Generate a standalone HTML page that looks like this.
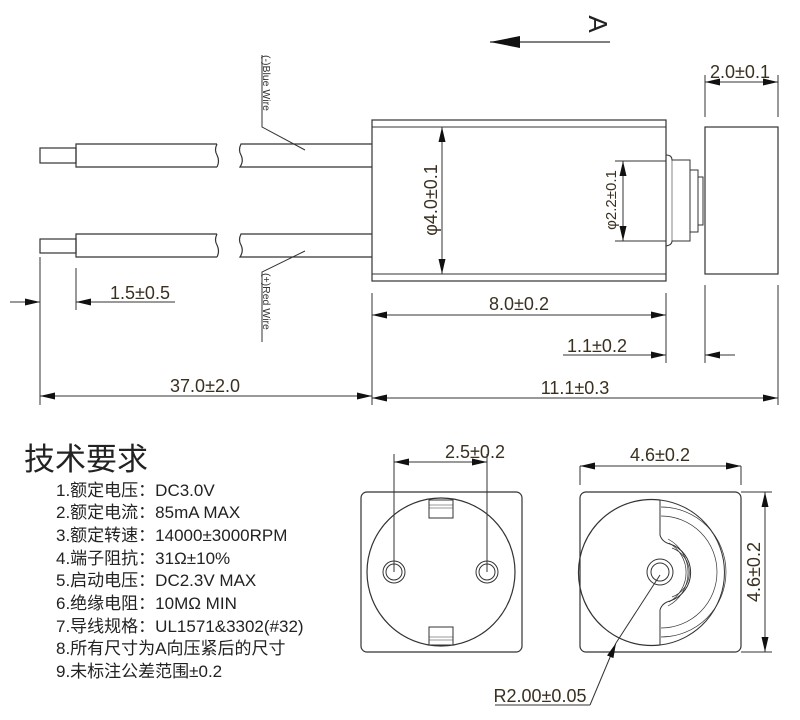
<!DOCTYPE html>
<html><head><meta charset="utf-8"><style>
html,body{margin:0;padding:0;background:#fff}
svg{display:block}
.t{font-family:"Liberation Sans",sans-serif;fill:#3a3020}
.c{font-family:"Liberation Sans","Noto Sans CJK SC",sans-serif;fill:#222}
</style></head><body>
<svg width="800" height="720" viewBox="0 0 800 720" xmlns="http://www.w3.org/2000/svg">
<defs>
<marker id="a" viewBox="0 0 15 7" refX="15" refY="3.5" markerWidth="15" markerHeight="7" orient="auto-start-reverse" markerUnits="userSpaceOnUse"><path d="M0,0L15,3.5L0,7z" fill="#111"/></marker>
<marker id="b" viewBox="0 0 30 12" refX="30" refY="6" markerWidth="30" markerHeight="12" orient="auto" markerUnits="userSpaceOnUse"><path d="M0,0L30,6L0,12z" fill="#111"/></marker>
</defs>
<g stroke="#333" stroke-width="1.2" fill="none">
<rect x="40" y="148" width="36" height="15"/>
<path d="M217,144H76V167H217 M217,144q-3,6 0,11q3,6 0,12"/>
<path d="M372,144H241q-3,6 0,11q3,6-1,12H372"/>
<rect x="40" y="239" width="36" height="14"/>
<path d="M217,234H76V257H217 M217,234q-3,6 0,11q3,6 0,12"/>
<path d="M372,234H241q-3,6 0,11q3,6-1,12H372"/>
<path d="M262,55V127L305,150" stroke-width="1"/>
<path d="M305,251L262,272V342" stroke-width="1"/>
<rect x="372" y="120" width="294" height="161"/>
<path d="M372,127H666M372,274H666" stroke-width="1"/>
<path d="M666,155q6,0 6,5H690V241H672q0,4-6,5" stroke-width="1"/>
<path d="M690,170H698V232H690M698,177H703V225H698" stroke-width="1"/>
<path d="M672,160V241" stroke-width="0.6"/>
<rect x="705" y="127" width="73" height="147"/>
<g stroke-width="1">
<line x1="442" y1="127" x2="442" y2="274" marker-start="url(#a)" marker-end="url(#a)"/>
<path d="M615,161H666M615,241H666"/>
<line x1="623" y1="161" x2="623" y2="241" marker-start="url(#a)" marker-end="url(#a)"/>
<path d="M705,75V117M778,75V117"/>
<line x1="705" y1="82" x2="778" y2="82" marker-start="url(#a)" marker-end="url(#a)"/>
<line x1="610" y1="42" x2="490" y2="42" marker-end="url(#b)" stroke-width="1.2"/>
<path d="M372,293V405M666,293V363M705,285V363M778,285V405"/>
<line x1="372" y1="315" x2="666" y2="315" marker-start="url(#a)" marker-end="url(#a)"/>
<line x1="563" y1="355" x2="666" y2="355" marker-end="url(#a)"/>
<line x1="735" y1="355" x2="705" y2="355" marker-end="url(#a)"/>
<line x1="372" y1="398" x2="778" y2="398" marker-start="url(#a)" marker-end="url(#a)"/>
<path d="M40,257V405M76,268V310"/>
<line x1="10" y1="302" x2="40" y2="302" marker-end="url(#a)"/>
<line x1="175" y1="302" x2="76" y2="302" marker-end="url(#a)"/>
<line x1="40" y1="396" x2="372" y2="396" marker-start="url(#a)" marker-end="url(#a)"/>
</g>
<rect x="361" y="492" width="161" height="160" rx="6"/>
<circle cx="441" cy="572" r="74"/>
<rect x="429" y="500" width="24" height="18" stroke-width="1"/>
<path d="M429,505H453M429,508H453" stroke-width="0.6"/>
<rect x="429" y="627" width="24" height="18" stroke-width="1"/>
<path d="M429,637H453M429,640H453" stroke-width="0.6"/>
<circle cx="394" cy="572" r="11" stroke-width="1"/><circle cx="394" cy="572" r="8" stroke-width="1"/>
<circle cx="487" cy="572" r="11" stroke-width="1"/><circle cx="487" cy="572" r="8" stroke-width="1"/>
<path d="M394,454V572M487,454V572" stroke-width="1"/>
<line x1="394" y1="462" x2="487" y2="462" marker-start="url(#a)" marker-end="url(#a)" stroke-width="1"/>
<rect x="580" y="492" width="161" height="160" rx="6"/>
<path d="M660,500A73,73 0 1 0 660,645"/>
<path d="M660,500A73,73 0 0 1 660,645" stroke-width="1"/>
<path d="M660,500V535Q662,542 670,544A30,30 0 0 1 670,601Q662,603 660,610V645" stroke-width="1"/>
<g stroke-width="0.7">
<path d="M661,507A65,65 0 0 1 661,637"/>
<path d="M661,516A56,56 0 0 1 661,628"/>
<path d="M672,548A26,26 0 0 1 672,597"/>
<path d="M669,543A34,34 0 0 1 669,602"/>
<path d="M668,539A38,38 0 0 1 668,606"/>
</g>
<circle cx="660" cy="572" r="13" stroke-width="1"/><circle cx="660" cy="572" r="9" stroke-width="1"/>
<path d="M580,466V485M741,466V485M741,492H772M741,652H772" stroke-width="1"/>
<line x1="580" y1="466" x2="741" y2="466" marker-start="url(#a)" marker-end="url(#a)" stroke-width="1"/>
<line x1="765" y1="492" x2="765" y2="652" marker-start="url(#a)" marker-end="url(#a)" stroke-width="1"/>
<line x1="590" y1="705" x2="616" y2="643" marker-end="url(#a)" stroke-width="1"/>
<path d="M616,643L660,575M590,705H495" stroke-width="1"/>
</g>
<g class="t" style="font-size:18px">
<text x="140" y="299" text-anchor="middle">1.5±0.5</text>
<text x="205" y="392" text-anchor="middle">37.0±2.0</text>
<text x="519" y="310" text-anchor="middle">8.0±0.2</text>
<text x="597" y="352" text-anchor="middle">1.1±0.2</text>
<text x="575" y="394" text-anchor="middle">11.1±0.3</text>
<text x="740" y="78" text-anchor="middle">2.0±0.1</text>
<text x="475" y="458" text-anchor="middle">2.5±0.2</text>
<text x="660" y="461" text-anchor="middle">4.6±0.2</text>
<text x="540" y="702" text-anchor="middle">R2.00±0.05</text>
<text transform="translate(437,200) rotate(-90)" text-anchor="middle">φ4.0±0.1</text>
<text transform="translate(616,200) rotate(-90)" text-anchor="middle" style="font-size:15px">φ2.2±0.1</text>
<text transform="translate(760,572) rotate(-90)" text-anchor="middle">4.6±0.2</text>
<text transform="translate(589,24) rotate(90)" text-anchor="middle" style="font-size:26px" fill="#222">A</text>
<text transform="translate(263,55) rotate(90)" style="font-size:10.5px" fill="#333">(-)Blue Wire</text>
<text transform="translate(263,273) rotate(90)" style="font-size:10.5px" fill="#333">(+)Red Wire</text>
</g>
<g class="c">
<text x="24" y="470" style="font-size:31px">技术要求</text>
<g style="font-size:17px">
<text x="56" y="496">1.额定电压：DC3.0V</text>
<text x="56" y="518">2.额定电流：85mA MAX</text>
<text x="56" y="541">3.额定转速：14000±3000RPM</text>
<text x="56" y="564">4.端子阻抗：31Ω±10%</text>
<text x="56" y="586">5.启动电压：DC2.3V MAX</text>
<text x="56" y="609">6.绝缘电阻：10MΩ MIN</text>
<text x="56" y="632">7.导线规格：UL1571&amp;3302(#32)</text>
<text x="56" y="654">8.所有尺寸为A向压紧后的尺寸</text>
<text x="56" y="677">9.未标注公差范围±0.2</text>
</g>
</g>
</svg>
</body></html>
